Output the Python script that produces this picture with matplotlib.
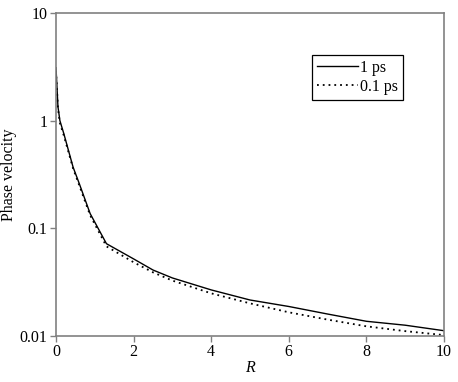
import matplotlib
matplotlib.use("Agg")
import matplotlib.pyplot as plt
from matplotlib.ticker import FixedLocator, FixedFormatter, NullLocator

# values (log y axis)
r_1ps = [0, 0.05, 0.1, 0.2, 0.44, 0.6, 0.88, 1.3, 2, 2.5, 3, 4, 5, 6, 7, 8, 9, 10]
v_1ps = [3.1, 1.35, 1.0, 0.76, 0.37, 0.26, 0.137, 0.072, 0.052, 0.041, 0.0346,
         0.0268, 0.0216, 0.0188, 0.016, 0.0137, 0.0126, 0.0112]

r_01ps = [0, 0.05, 0.1, 0.2, 0.44, 0.6, 0.88, 1.3, 2, 2.5, 3, 4, 5, 6, 7, 8, 9, 10]
v_01ps = [2.9, 1.3, 0.95, 0.73, 0.36, 0.25, 0.132, 0.068, 0.0484, 0.039, 0.0327,
          0.0249, 0.0201, 0.0166, 0.0142, 0.0123, 0.0111, 0.0102]

x_ticks = [0, 2, 4, 6, 8, 10]
y_ticks = [0.01, 0.1, 1, 10]
y_labels = ["0.01", "0.1", "1", "10"]

plt.rcParams["font.family"] = ["Liberation Serif", "DejaVu Serif"]
plt.rcParams["font.size"] = 11.5

fig = plt.figure(figsize=(4.58, 3.82), dpi=100)
ax = fig.add_axes([0.1223, 0.1204, 0.8471, 0.8456])

ax.plot(r_1ps, v_1ps, color="black", lw=1.0, label="1 ps")
ax.plot(r_01ps, v_01ps, color="black", lw=1.3, ls=(0, (1, 2.2)), label="0.1 ps")

ax.set_yscale("log")
ax.set_xlim(0, 10)
ax.set_ylim(0.01, 10)
ax.xaxis.set_major_locator(FixedLocator(x_ticks))
ax.yaxis.set_major_locator(FixedLocator(y_ticks))
ax.yaxis.set_major_formatter(FixedFormatter(y_labels))
ax.yaxis.set_minor_locator(NullLocator())

for s in ax.spines.values():
    s.set_color("#808080")
    s.set_linewidth(1.2)
ax.tick_params(direction="out", length=4, width=1, color="#808080",
               labelcolor="black", pad=2)

ax.set_xlabel("R", style="italic", labelpad=0)
ax.set_ylabel("Phase velocity")
ax.yaxis.set_label_coords(-0.1, 0.5)

leg = ax.legend(loc="upper right", bbox_to_anchor=(0.894, 0.87),
                fancybox=False, framealpha=1, edgecolor="black",
                handlelength=2.6, handletextpad=0.1, borderpad=0.3,
                labelspacing=0.2, borderaxespad=0)
leg.get_frame().set_linewidth(0.9)

fig.savefig("out.png", dpi=100)
